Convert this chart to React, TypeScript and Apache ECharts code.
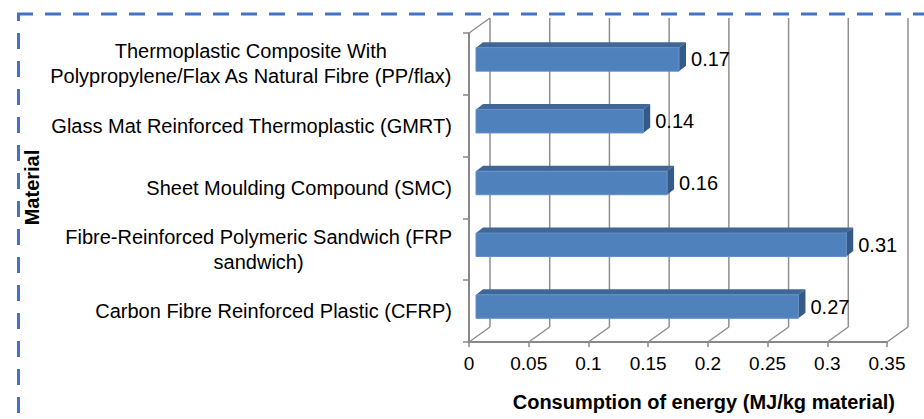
import React, { useEffect, useRef } from "react";
import * as echarts from "echarts";

const categories = [
  "Thermoplastic Composite With\nPolypropylene/Flax As Natural Fibre (PP/flax)",
  "Glass Mat Reinforced Thermoplastic (GMRT)",
  "Sheet Moulding Compound (SMC)",
  "Fibre-Reinforced Polymeric Sandwich (FRP\nsandwich)",
  "Carbon Fibre Reinforced Plastic (CFRP)",
];
const energyValues = [0.17, 0.14, 0.16, 0.31, 0.27];
const xTicks = [0, 0.05, 0.1, 0.15, 0.2, 0.25, 0.3, 0.35];
const xAxisTitle = "Consumption of energy (MJ/kg material)";
const yAxisTitle = "Material";

const FONT = "'Liberation Sans', Arial, sans-serif";
const WALL_DX = 21;
const WALL_DY = -15;
const GRID_COLOR = "#8f8f8f";
const AXIS_COLOR = "#888888";
const FRONT = "#4F81BD";
const TOP = "#3F6898";
const SIDE = "#345A88";
const BORDER = "#4472C4";

export default function App() {
  const ref = useRef<HTMLDivElement>(null);
  useEffect(() => {
    if (!ref.current) return;
    const chart = echarts.init(ref.current, undefined, { renderer: "svg" });
    const lineStyle = { stroke: GRID_COLOR, lineWidth: 1.5 };
    const option: any = {
      animation: false,
      grid: {
        left: 469,
        top: 33,
        width: 418,
        height: 309,
        containLabel: false,
        outerBoundsMode: "none",
      },
      xAxis: {
        type: "value",
        min: 0,
        max: 0.35,
        interval: 0.05,
        axisLine: { show: true, lineStyle: { color: AXIS_COLOR, width: 2 } },
        axisTick: { show: true, length: 5, lineStyle: { color: AXIS_COLOR, width: 1.5 } },
        axisLabel: { color: "#000", fontSize: 19, fontFamily: FONT, margin: 12 },
        splitLine: { show: false },
      },
      yAxis: {
        type: "category",
        inverse: true,
        data: categories,
        name: yAxisTitle,
        nameLocation: "middle",
        nameGap: 427,
        nameTextStyle: { fontWeight: "bold", fontSize: 20, fontFamily: FONT, color: "#000" },
        axisLine: { show: true, lineStyle: { color: AXIS_COLOR, width: 2 } },
        axisTick: { show: true, length: 6, lineStyle: { color: AXIS_COLOR, width: 1.5 } },
        axisLabel: {
          margin: 17,
          formatter: (val: string) =>
            val
              .split("\n")
              .map((l) => `{c|${l}}`)
              .join("\n"),
          rich: {
            c: { align: "center", fontSize: 20, fontFamily: FONT, color: "#000", lineHeight: 25 },
          },
        },
        splitLine: { show: false },
      },
      series: [
        {
          type: "custom",
          z: 1,
          silent: true,
          data: xTicks.map((t) => [t, 0]),
          encode: { x: 0, y: 1 },
          renderItem: (params: any, api: any) => {
            const t = api.value(0);
            const p = api.coord([t, 0]);
            const cs = params.coordSys;
            const bottom = cs.y + cs.height;
            const children: any[] = [
              {
                type: "line",
                shape: { x1: p[0] + WALL_DX, y1: cs.y + WALL_DY, x2: p[0] + WALL_DX, y2: bottom + WALL_DY },
                style: lineStyle,
              },
              {
                type: "line",
                shape: { x1: p[0], y1: bottom, x2: p[0] + WALL_DX, y2: bottom + WALL_DY },
                style: lineStyle,
              },
            ];
            if (params.dataIndex === 0) {
              children.push({
                type: "line",
                shape: { x1: p[0], y1: cs.y, x2: p[0] + WALL_DX, y2: cs.y + WALL_DY },
                style: lineStyle,
              });
            }
            return { type: "group", children };
          },
        },
        {
          type: "custom",
          z: 5,
          data: energyValues.map((v, i) => [v, i]),
          encode: { x: 0, y: 1 },
          renderItem: (params: any, api: any) => {
            const v = api.value(0);
            const idx = api.value(1);
            const p0 = api.coord([0, idx]);
            const p1 = api.coord([v, idx]);
            const band = api.size([0, 1])[1];
            const h = band * 0.38;
            const ox = WALL_DX / 3;
            const oy = -4.5;
            const x0 = p0[0] + ox;
            const x1 = p1[0] + ox;
            const top = p0[1] + oy - h / 2;
            const bottom = top + h;
            const bx = 7;
            const by = -5.5;
            return {
              type: "group",
              children: [
                {
                  type: "polygon",
                  shape: { points: [[x0, top], [x1, top], [x1 + bx, top + by], [x0 + bx, top + by]] },
                  style: { fill: TOP },
                },
                {
                  type: "polygon",
                  shape: { points: [[x1, top], [x1 + bx, top + by], [x1 + bx, bottom + by], [x1, bottom]] },
                  style: { fill: SIDE },
                },
                {
                  type: "rect",
                  shape: { x: x0, y: top, width: x1 - x0, height: h },
                  style: { fill: FRONT, stroke: "#6690c6", lineWidth: 1 },
                },
                {
                  type: "text",
                  x: x1 + bx + 5,
                  y: top + h / 2,
                  style: {
                    text: String(v),
                    fill: "#000",
                    fontSize: 20,
                    fontFamily: FONT,
                    align: "left",
                    verticalAlign: "middle",
                  },
                },
              ],
            };
          },
        },
      ],
      graphic: [
        {
          type: "line",
          shape: { x1: 17, y1: 14, x2: 924, y2: 14 },
          style: { stroke: BORDER, lineWidth: 3, lineDash: [16, 12] },
        },
        {
          type: "line",
          shape: { x1: 18.5, y1: 13, x2: 18.5, y2: 419 },
          style: { stroke: BORDER, lineWidth: 3, lineDash: [16, 12], lineDashOffset: 8 },
        },
        {
          type: "text",
          right: 29,
          top: 392,
          style: { text: xAxisTitle, fill: "#000", font: `bold 20px ${FONT}` },
        },
      ],
    };
    chart.setOption(option);
    return () => chart.dispose();
  }, []);
  return (
    <div
      ref={ref}
      style={{ position: "absolute", left: 0, top: 0, width: 924, height: 419, background: "#fff" }}
    />
  );
}
